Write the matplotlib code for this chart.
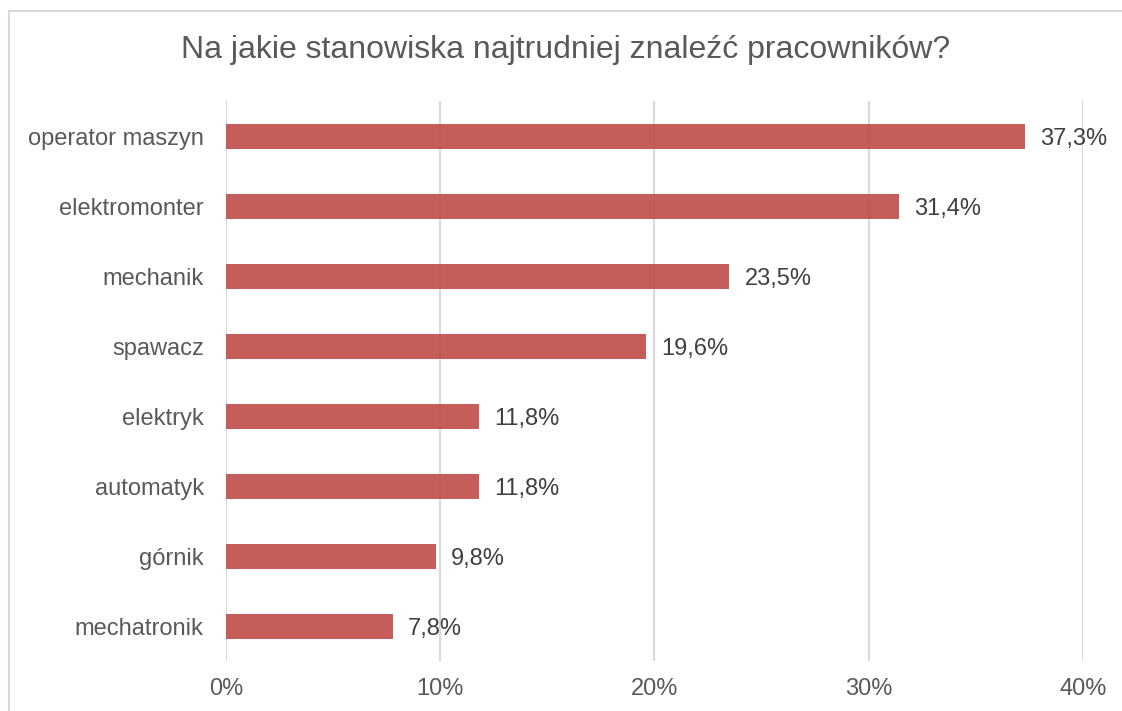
import matplotlib.pyplot as plt
from matplotlib.patches import Rectangle

# dane z wykresu
stanowiska = [
    "operator maszyn",
    "elektromonter",
    "mechanik",
    "spawacz",
    "elektryk",
    "automatyk",
    "górnik",
    "mechatronik",
]
procenty = [37.3, 31.4, 23.5, 19.6, 11.8, 11.8, 9.8, 7.8]
ticki_x = [0, 10, 20, 30, 40]
etykiety_x = ["0%", "10%", "20%", "30%", "40%"]

plt.rcParams["font.family"] = ["Liberation Sans", "DejaVu Sans"]

fig = plt.figure(figsize=(11.22, 7.11), dpi=100)
ax = fig.add_axes([0.2014, 0.0697, 0.7638, 0.7877])

# ramka wykresu (widoczna tylko z lewej i u gory)
fig.patches.append(
    Rectangle((9 / 1122, -0.1), 1.2, 1 - 11 / 711 + 0.1,
              transform=fig.transFigure, fill=False,
              edgecolor="#D9D9D9", linewidth=1.5)
)

pozycje = list(range(len(stanowiska)))
ax.barh(pozycje, procenty, height=0.35, color="#C0504D", alpha=0.92, zorder=3)

for y, v in zip(pozycje, procenty):
    ax.text(v + 0.7, y, f"{v:.1f}%".replace(".", ","), va="center_baseline",
            ha="left", fontsize=17, color="#404040")

ax.set_ylim(len(stanowiska) - 0.5, -0.5)
ax.set_xlim(0, 40)
ax.set_yticks(pozycje)
ax.set_yticklabels(stanowiska, fontsize=17, color="#595959", va="center_baseline")
ax.set_xticks(ticki_x)
ax.set_xticklabels(etykiety_x, fontsize=17, color="#595959")
ax.tick_params(length=0)
ax.tick_params(axis="y", pad=16)
ax.tick_params(axis="x", pad=12)

ax.grid(axis="x", color="#D9D9D9", linewidth=1.5, zorder=1)
ax.set_axisbelow(True)
for sp in ax.spines.values():
    sp.set_visible(False)

fig.text(0.504, 1 - 50 / 711, "Na jakie stanowiska najtrudniej znaleźć pracowników?",
         ha="center", va="center", fontsize=23, color="#595959")

fig.savefig("out.png", dpi=100)
